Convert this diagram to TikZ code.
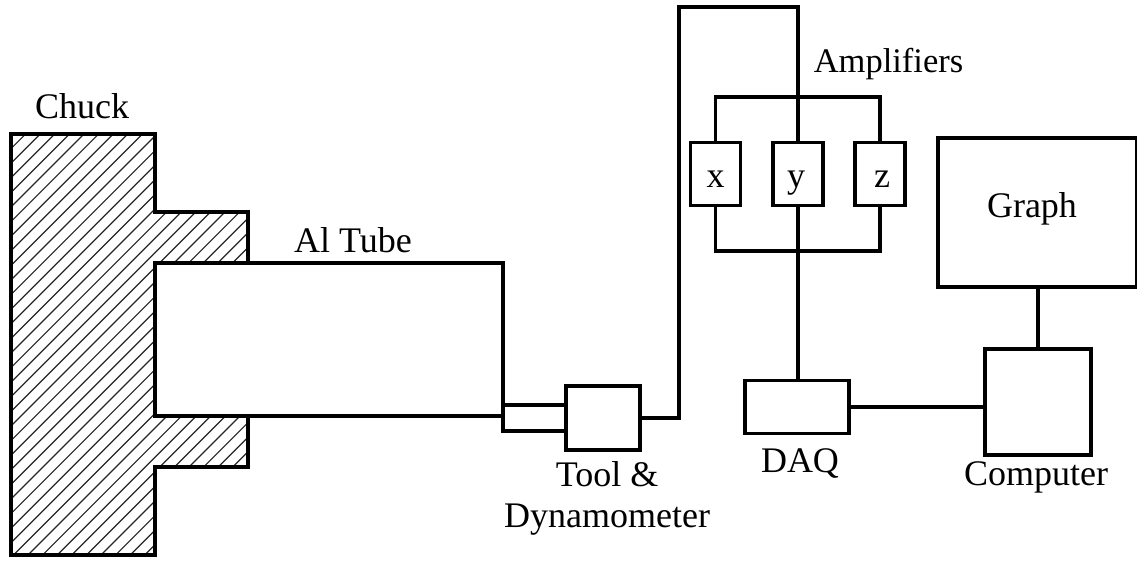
\documentclass[tikz,border=0pt]{standalone}
\usepackage{fontspec}
\setmainfont{Liberation Serif}
\usetikzlibrary{positioning}

\tikzset{
  wire/.style={line width=3.8pt,line join=miter},
  hatch/.style={line width=1.2pt,black!85},
  unit/.style={draw,line width=3.8pt,inner sep=0pt,font=\fontsize{36}{41}\selectfont},
  tag/.style={inner sep=0pt,align=center,anchor=base,font=\fontsize{36}{41}\selectfont},
}

\begin{document}
\begin{tikzpicture}[x=1pt,y=-1pt]
  \useasboundingbox (0,0) rectangle (1137,560);

  % chuck
  \begin{scope}
    \clip (11,134) -- (155,134) -- (155,212) -- (248,212) -- (248,263) -- (155,263)
      -- (155,416) -- (248,416) -- (248,467) -- (155,467) -- (155,555) -- (11,555) -- cycle;
    \foreach \i in {0,...,50}
      \draw[hatch] (11+14.6*\i,134) -- ++(-430,430);
  \end{scope}
  \draw[wire] (11,134) -- (155,134) -- (155,212) -- (248,212) -- (248,263) -- (155,263)
    -- (155,416) -- (248,416) -- (248,467) -- (155,467) -- (155,555) -- (11,555) -- cycle;

  % tube
  \draw[wire] (248,263) -- (503,263) -- (503,416);
  \draw[wire] (248,416) -- (503,416);

  % boxes
  \node[unit,minimum width=74pt,minimum height=64pt] (tool) at (603,418) {};
  \node[unit,minimum width=50pt,minimum height=63pt] (ampx) at (715.5,174) {};
  \node[unit,minimum width=50pt,minimum height=63pt] (ampy) at (798,174) {};
  \node[unit,minimum width=50pt,minimum height=63pt] (ampz) at (880,174) {};
  \node[unit,minimum width=104pt,minimum height=53pt] (daq) at (797,407) {};
  \node[unit,minimum width=106pt,minimum height=106pt] (computer) at (1038,402) {};
  \node[unit,minimum width=199pt,minimum height=149pt] (graph) at (1037.5,212.5) {};

  \coordinate (bustop) at (798,97);
  \coordinate (busbot) at (798,251);
  \coordinate (prongA) at (503,405);
  \coordinate (prongB) at (503,431);

  % wires
  \draw[wire] (prongA -| tool.west) -- (prongA) -- (prongB) -- (prongB -| tool.west);
  \draw[wire] (tool.east) -- (679,418) -- (679,7) -- (798,7) -- (bustop);
  \draw[wire] (ampx.north) |- (bustop) -| (ampz.north);
  \draw[wire] (bustop) -- (ampy.north);
  \draw[wire] (ampx.south) |- (busbot) -| (ampz.south);
  \draw[wire] (ampy.south) -- (busbot) -- (daq.north -| busbot);
  \draw[wire] (daq.east) -- (computer.west |- daq.east);
  \draw[wire] (graph.south -| computer.north) -- (computer.north);

  % labels
  \node[tag] (chucklabel) at (82,118) {Chuck};
  \node[tag] (tubelabel) at (353,252) {Al Tube};
  \node[tag,font=\fontsize{34.5}{41}\selectfont] (amplabel) at (888.5,72) {Amplifiers};
  \node[tag] (graphlabel) at (1032,217) {Graph};
  \node[tag] (xlabel) at (715.5,187) {x};
  \node[tag] (ylabel) at (796,187) {y};
  \node[tag] (zlabel) at (882,187) {z};
  \node[tag,anchor=center] (toollabel) at (607,498) {Tool \&\\Dynamometer};
  \node[tag] (daqlabel) at (800,472) {DAQ};
  \node[tag] (computerlabel) at (1036,485) {Computer};
\end{tikzpicture}
\end{document}
